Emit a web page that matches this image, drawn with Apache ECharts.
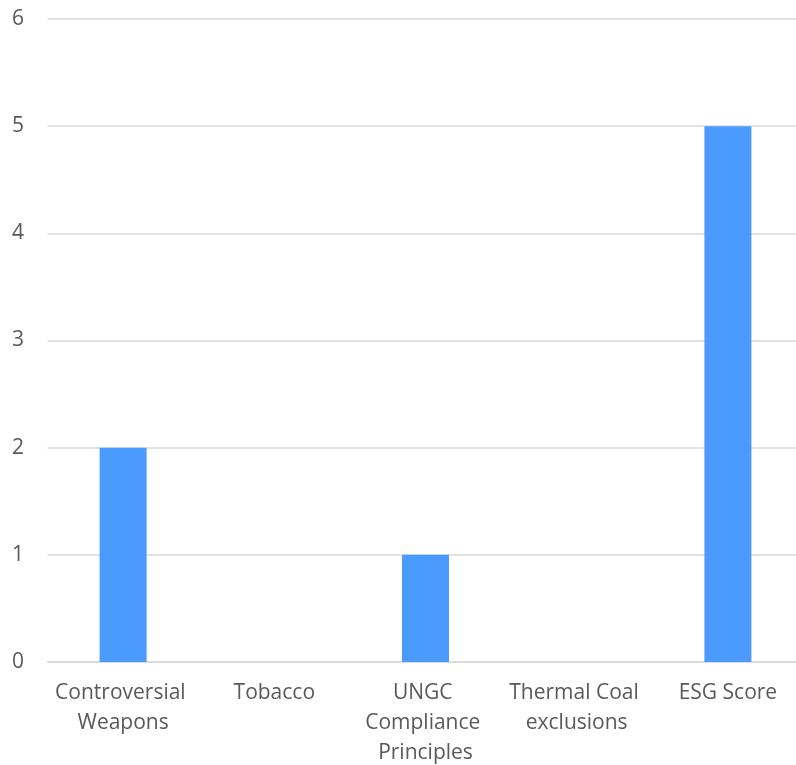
<!DOCTYPE html>
<html>
<head>
<meta charset="utf-8">
<script src="https://cdn.jsdelivr.net/npm/echarts@6/dist/echarts.min.js"></script>
<style>
  html, body { margin: 0; padding: 0; background: #fff; }
  #chart { width: 796px; height: 765px; }
</style>
</head>
<body>
<div id="chart"></div>
<script>
// Screening categories and the count recorded for each
const categories = ['Controversial Weapons', 'Tobacco', 'UNGC Compliance Principles', 'Thermal Coal exclusions', 'ESG Score'];
const counts = [2, 0, 1, 0, 5];
const yTicks = [0, 1, 2, 3, 4, 5, 6];

const chart = echarts.init(document.getElementById('chart'));
chart.setOption({
  animation: false,
  textStyle: { fontFamily: 'Open Sans' },
  // plot area runs a little past the right edge of the canvas
  grid: {
    left: 47.5, top: 19, width: 756, height: 643,
    containLabel: false,
    outerBoundsMode: 'none'
  },
  xAxis: {
    type: 'category',
    data: categories,
    axisLine: { lineStyle: { color: '#D9D9D9', width: 1.5 } },
    axisTick: { show: false },
    axisLabel: {
      color: '#595959',
      fontSize: 21,
      fontFamily: 'Open Sans',
      margin: 16,
      lineHeight: 30,
      width: 140,
      overflow: 'break',
      interval: 0
    }
  },
  yAxis: {
    type: 'value',
    min: yTicks[0],
    max: yTicks[yTicks.length - 1],
    interval: 1,
    axisLine: { show: false },
    axisTick: { show: false },
    splitLine: { lineStyle: { color: '#D9D9D9', width: 1.5 } },
    axisLabel: {
      color: '#595959',
      fontSize: 21,
      fontFamily: 'Open Sans',
      margin: 23.5
    }
  },
  series: [{
    type: 'bar',
    data: counts,
    barWidth: 47,
    itemStyle: { color: '#4B9BFF' }
  }]
});
</script>
</body>
</html>
